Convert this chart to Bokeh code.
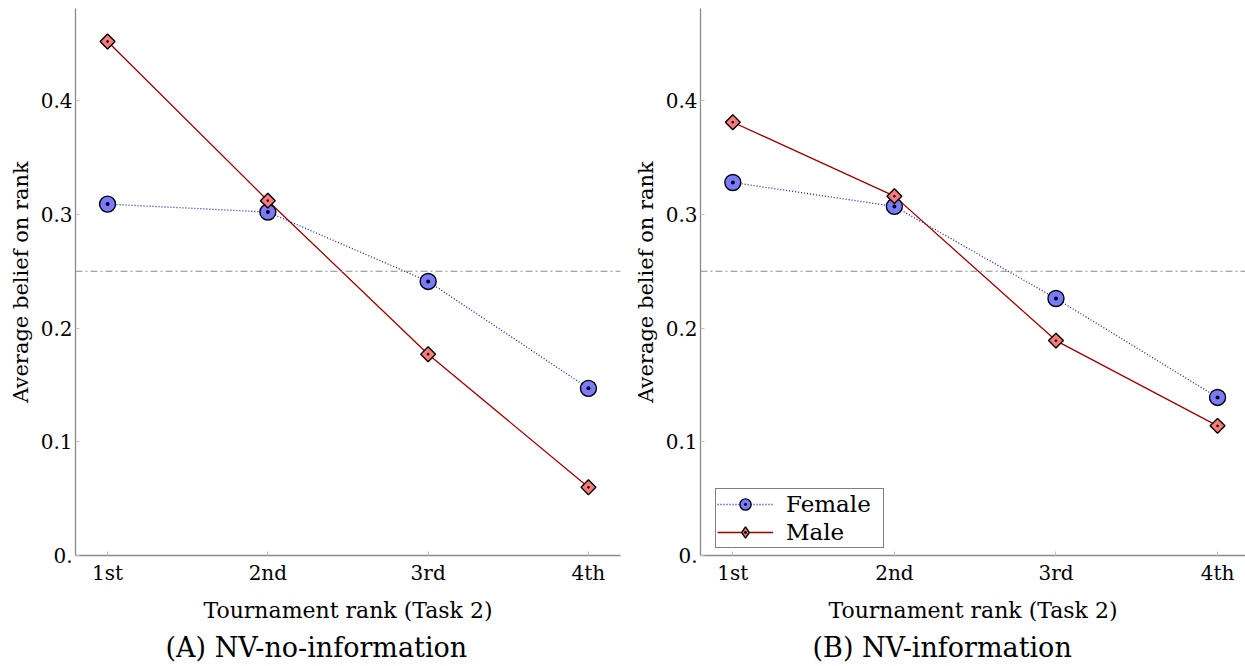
import math
from bokeh.plotting import figure
from bokeh.layouts import row
from bokeh.models import FixedTicker, Span, Legend, LegendItem, Title, Range1d
from bokeh.embed import file_html
from bokeh.resources import INLINE

# ---------------- data ----------------
ranks = [1, 2, 3, 4]
rank_labels = ["1st", "2nd", "3rd", "4th"]
y_ticks = [0.0, 0.1, 0.2, 0.3, 0.4]
y_tick_labels = ["0.", "0.1", "0.2", "0.3", "0.4"]

female_noinfo = [0.309, 0.302, 0.241, 0.147]
male_noinfo = [0.452, 0.312, 0.177, 0.060]
female_info = [0.328, 0.307, 0.226, 0.139]
male_info = [0.381, 0.316, 0.189, 0.114]
reference_level = 0.25

captions = ["(A) NV-no-information", "(B) NV-information"]
x_label = "Tournament rank (Task 2)"
y_label = "Average belief on rank"
series_names = ["Female", "Male"]

FONT = "DejaVu Serif"
FEMALE_FILL = "#7b7bff"
MALE_FILL = "#ff7b7b"
FEMALE_LINE = "#1e1ea8"
MALE_LINE = "#990000"
AXIS_COLOR = "#8a8a8a"
FIG_H = 666
FRAME_H = 548


def make_panel(female, male, caption, width, x_end, min_left, min_right,
               caption_offset, with_legend):
    top = 8
    bottom = FIG_H - top - FRAME_H
    p = figure(width=width, height=FIG_H, output_backend="svg", toolbar_location=None,
               x_range=Range1d(0.8, x_end), y_range=Range1d(0.0, 0.481),
               min_border_left=min_left, min_border_right=min_right,
               min_border_top=top, min_border_bottom=bottom)
    p.outline_line_color = None
    p.xgrid.visible = False
    p.ygrid.visible = False
    p.background_fill_color = "white"
    p.border_fill_color = "white"

    span = Span(location=reference_level, dimension="width", line_color="#8c8c8c",
                line_width=1.1, line_dash="7 3 2 3")
    p.add_layout(span)

    fl = p.line(ranks, female, line_color=FEMALE_LINE, line_width=1.3, line_dash="1 2")
    ml = p.line(ranks, male, line_color=MALE_LINE, line_width=1.3)
    fm = p.scatter(ranks, female, marker="circle_dot", size=16, fill_color=FEMALE_FILL,
                   line_color="black", line_width=1.4)
    p.scatter(ranks, male, marker="square_dot", size=10.5, angle=math.pi / 4,
              fill_color=MALE_FILL, line_color="black", line_width=1.4)

    for ax in (p.xaxis[0], p.yaxis[0]):
        ax.axis_line_color = AXIS_COLOR
        ax.axis_line_width = 1.3
        ax.major_tick_line_color = "#c0c0c0"
        ax.major_tick_in = 4
        ax.major_tick_out = 0
        ax.minor_tick_line_color = None
        ax.major_label_text_font = FONT
        ax.major_label_text_font_size = "20px"
        ax.major_label_text_color = "black"
        ax.axis_label_text_font = FONT
        ax.axis_label_text_font_style = "normal"
        ax.axis_label_text_color = "black"

    p.xaxis.ticker = FixedTicker(ticks=ranks)
    p.xaxis.major_label_overrides = {r: lab for r, lab in zip(ranks, rank_labels)}
    p.xaxis.major_label_standoff = 5
    p.xaxis.axis_label = x_label
    p.xaxis.axis_label_text_font_size = "22px"
    p.xaxis.axis_label_standoff = 10

    p.yaxis.ticker = FixedTicker(ticks=y_ticks)
    p.yaxis.major_label_overrides = {t: lab for t, lab in zip(y_ticks, y_tick_labels)}
    p.yaxis.major_label_standoff = 3
    p.yaxis.axis_label = y_label
    p.yaxis.axis_label_text_font_size = "21px"
    p.yaxis.axis_label_standoff = 5

    p.add_layout(Title(text=caption, align="left", offset=caption_offset, standoff=8,
                       text_font=FONT, text_font_size="27px", text_font_style="normal",
                       text_color="black"), "below")

    if with_legend:
        # legend glyph for the male series: zero size in the plot, a diamond in the legend
        mleg = p.scatter(ranks, male, marker="diamond_dot", size=0, fill_color=MALE_FILL,
                         line_color="black", line_width=1.4)
        legend = Legend(items=[LegendItem(label=series_names[0], renderers=[fl, fm]),
                               LegendItem(label=series_names[1], renderers=[ml, mleg])],
                        location=(15, 7))
        legend.label_text_font = FONT
        legend.label_text_font_size = "23px"
        legend.label_text_color = "black"
        legend.glyph_width = 56
        legend.glyph_height = 28
        legend.label_height = 20
        legend.label_width = 96
        legend.label_standoff = 13
        legend.spacing = 0
        legend.padding = 1
        legend.margin = 0
        legend.border_line_color = "black"
        legend.border_line_width = 1.5
        legend.background_fill_alpha = 1.0
        p.add_layout(legend, "center")
    return p


p1 = make_panel(female_noinfo, male_noinfo, captions[0], width=630, x_end=4.2,
                min_left=75, min_right=10, caption_offset=90, with_legend=False)
p2 = make_panel(female_info, male_info, captions[1], width=615, x_end=4.173,
                min_left=68, min_right=0, caption_offset=112, with_legend=True)

layout = row(p1, p2)
open("out.html", "w").write(file_html(layout, INLINE))
